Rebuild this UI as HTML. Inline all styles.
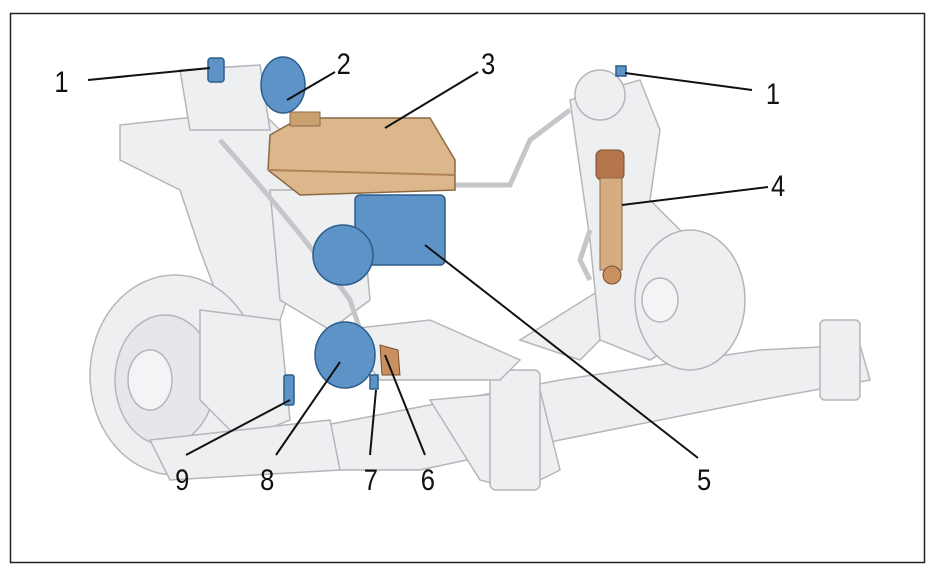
<!DOCTYPE html>
<html><head><meta charset="utf-8"><style>
html,body{margin:0;padding:0;background:#fff;width:935px;height:576px;overflow:hidden}
svg{display:block}
text{font-family:"Liberation Sans",sans-serif;font-size:30px;fill:#111}
</style></head><body>
<svg width="935" height="576" viewBox="0 0 935 576">
<rect x="0" y="0" width="935" height="576" fill="#fff"/>
<rect x="10.5" y="13.5" width="914" height="549" fill="none" stroke="#222" stroke-width="1.5"/>
<g fill="#eeeff1" stroke="#b4b6ba" stroke-width="1.5">
<path d="M300 430 L560 380 L760 350 L860 345 L870 380 L760 400 L560 440 L420 470 L300 470 Z"/>
<path d="M430 400 L540 390 L560 470 L520 490 L480 480 Z"/>
<rect x="490" y="370" width="50" height="120" rx="6"/>
<rect x="820" y="320" width="40" height="80" rx="5"/>
<path d="M520 340 L600 290 L640 300 L580 360 Z"/>
<path d="M120 125 L260 110 L300 150 L300 260 L280 320 L230 330 L200 250 L180 190 L120 160 Z"/>
<path d="M180 70 L260 65 L270 130 L190 130 Z"/>
<ellipse cx="175" cy="375" rx="85" ry="100"/>
<ellipse cx="165" cy="380" rx="50" ry="65" fill="#e6e7ea"/>
<ellipse cx="150" cy="380" rx="22" ry="30" fill="#f4f4f6"/>
<path d="M200 310 L280 320 L290 420 L240 440 L200 400 Z"/>
<path d="M570 100 L640 80 L660 130 L650 200 L690 240 L700 330 L650 360 L600 340 L590 240 L580 170 Z"/>
<ellipse cx="600" cy="95" rx="25" ry="25"/>
<ellipse cx="690" cy="300" rx="55" ry="70"/>
<ellipse cx="660" cy="300" rx="18" ry="22" fill="#f4f4f6"/>
<path d="M270 190 L360 190 L370 300 L330 330 L280 300 Z"/>
<path d="M340 330 L430 320 L520 360 L500 380 L380 380 Z"/>
<path d="M150 440 L330 420 L340 470 L170 480 Z"/>
</g>
<g fill="none" stroke="#c4c6ca" stroke-width="5">
<path d="M220 140 Q300 230 350 300 L360 330"/>
<path d="M455 185 L510 185 L530 140 L570 110"/>
<path d="M590 230 L580 260 L590 280"/>
</g>
<path d="M270 135 L300 118 L430 118 L455 160 L455 190 L300 195 L268 170 Z" fill="#dcb78c" stroke="#8a6a45" stroke-width="1.5"/>
<path d="M268 170 L455 175" stroke="#b08254" stroke-width="2"/>
<rect x="290" y="112" width="30" height="14" fill="#c9a070" stroke="#8a6a45"/>
<rect x="596" y="150" width="28" height="30" rx="6" fill="#b5764b" stroke="#7a4e2e"/>
<rect x="600" y="178" width="22" height="92" fill="#d6ad80" stroke="#8a6a45"/>
<circle cx="612" cy="275" r="9" fill="#c98f5e" stroke="#7a4e2e"/>
<g fill="#5d93c7" stroke="#2c5d8c" stroke-width="1.5">
<rect x="355" y="195" width="90" height="70" rx="5"/>
<ellipse cx="343" cy="255" rx="30" ry="30"/>
<ellipse cx="283" cy="85" rx="22" ry="28"/>
<ellipse cx="345" cy="355" rx="30" ry="33"/>
<rect x="208" y="58" width="16" height="24" rx="3"/>
<rect x="284" y="375" width="10" height="30" rx="2"/>
<rect x="370" y="375" width="8" height="14"/>
<rect x="616" y="66" width="10" height="10"/>
</g>
<path d="M380 345 L398 350 L400 375 L382 375 Z" fill="#c98f5e" stroke="#7a4e2e"/>
<g stroke="#111" stroke-width="2">
<line x1="88" y1="80" x2="210" y2="68"/>
<line x1="335" y1="72" x2="287" y2="100"/>
<line x1="478" y1="72" x2="385" y2="128"/>
<line x1="752" y1="90" x2="625" y2="73"/>
<line x1="768" y1="187" x2="622" y2="205"/>
<line x1="698" y1="458" x2="425" y2="245"/>
<line x1="425" y1="455" x2="385" y2="355"/>
<line x1="370" y1="455" x2="376" y2="390"/>
<line x1="276" y1="455" x2="340" y2="362"/>
<line x1="186" y1="455" x2="290" y2="400"/>
</g>
<g transform="scale(0.85,1)">
<text x="64" y="92">1</text>
<text x="396" y="74">2</text>
<text x="566" y="74">3</text>
<text x="901" y="104">1</text>
<text x="907" y="196">4</text>
<text x="820" y="490">5</text>
<text x="495" y="490">6</text>
<text x="428" y="490">7</text>
<text x="306" y="490">8</text>
<text x="206" y="490">9</text>
</g>
</svg>
</body></html>
